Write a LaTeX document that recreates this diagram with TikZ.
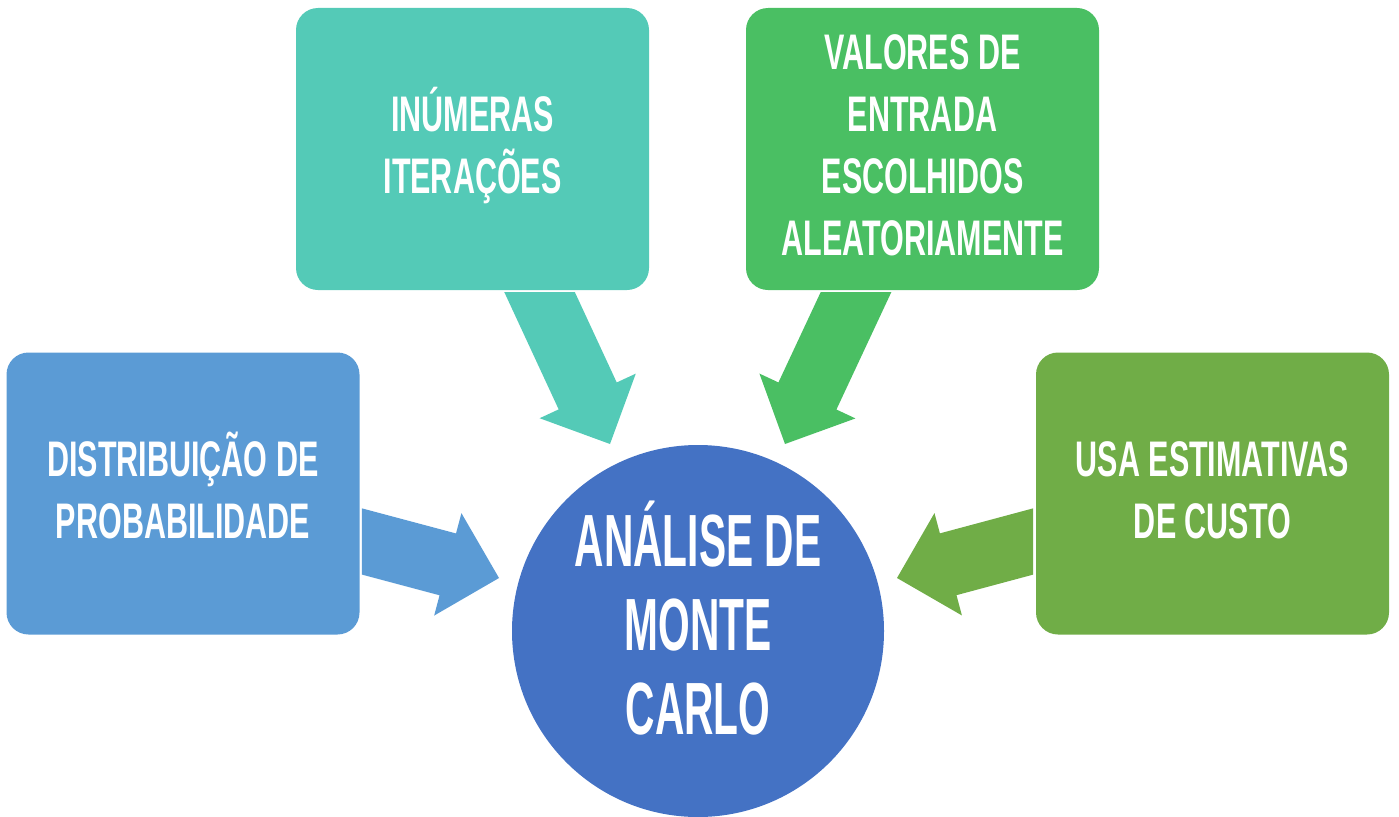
\documentclass[tikz,border=0pt]{standalone}
\usepackage{fontspec}
\newfontfamily\capsfont{Liberation Sans}[FakeStretch=0.61]
\newfontfamily\hubfont{Liberation Sans}[FakeStretch=0.55]
\usetikzlibrary{calc}
\definecolor{probblue}{RGB}{91,155,213}
\definecolor{iterteal}{RGB}{84,202,183}
\definecolor{inputgreen}{RGB}{74,191,99}
\definecolor{costgreen}{RGB}{112,173,71}
\definecolor{mcblue}{RGB}{68,114,196}
\tikzset{
  card/.style={rounded corners=22pt,minimum width=353pt,minimum height=282pt,inner sep=0pt},
  cardtext/.style={anchor=base,inner sep=0pt,text=white,align=center,
    font=\capsfont\bfseries\fontsize{50}{62}\selectfont},
  hub/.style={circle,minimum size=372pt,inner sep=0pt,fill=mcblue},
  hubtext/.style={anchor=base,inner sep=0pt,text=white,align=center,
    font=\hubfont\bfseries\fontsize{74}{84}\selectfont},
}
\newcommand{\blockarrow}[4]{% tail, tip, point on tail cut, colour
  \coordinate (s1) at ($(#1)!32pt!90:(#2)$);
  \coordinate (s2) at ($(#1)!32pt!-90:(#2)$);
  \coordinate (hb) at ($(#2)!53pt!(#1)$);
  \coordinate (h1) at ($(hb)!32pt!90:(#2)$);
  \coordinate (h2) at ($(hb)!32pt!-90:(#2)$);
  \coordinate (c1) at ($(hb)!53pt!90:(#2)$);
  \coordinate (c2) at ($(hb)!53pt!-90:(#2)$);
  \fill[#4] (intersection of s1--h1 and #1--#3) -- (h1) -- (c1) -- (#2)
    -- (c2) -- (h2) -- (intersection of s2--h2 and #1--#3) -- cycle;
}

\begin{document}
\begin{tikzpicture}[x=1pt,y=-1pt]
  \useasboundingbox (0,0) rectangle (1399,816);
  % text nodes sit on the baseline of their last line
  \node[card,fill=probblue] (dist) at (183,493.5){};
  \node[cardtext] (dist-text) at (183,538){DISTRIBUIÇÃO DE\\PROBABILIDADE};
  \node[card,fill=iterteal] (iter) at (472.5,149){};
  \node[cardtext] (iter-text) at (472.5,193){INÚMERAS\\ITERAÇÕES};
  \node[card,fill=inputgreen] (input) at (922.5,149){};
  \node[cardtext] (input-text) at (922.5,255){VALORES DE\\ENTRADA\\ESCOLHIDOS\\ALEATORIAMENTE};
  \node[card,fill=costgreen] (cost) at (1212.5,493.5){};
  \node[cardtext] (cost-text) at (1212.5,538){USA ESTIMATIVAS\\DE CUSTO};
  \node[hub] (mc) at (698,631){};
  \node[hubtext] (mc-text) at (698,734){ANÁLISE DE\\MONTE\\CARLO};
  \coordinate (dist-out) at (362,541.5); \coordinate (dist-cut) at (362,500);
  \coordinate (iter-out) at (539.5,292); \coordinate (iter-cut) at (500,292);
  \coordinate (input-out) at (856,292); \coordinate (input-cut) at (900,292);
  \coordinate (cost-out) at (1033,541.5); \coordinate (cost-cut) at (1033,500);
  \coordinate (mc-w) at (499,578); \coordinate (mc-nw) at (610,444);
  \coordinate (mc-ne) at (785,444); \coordinate (mc-e) at (897,578);
  \blockarrow{dist-out}{mc-w}{dist-cut}{probblue}
  \blockarrow{iter-out}{mc-nw}{iter-cut}{iterteal}
  \blockarrow{input-out}{mc-ne}{input-cut}{inputgreen}
  \blockarrow{cost-out}{mc-e}{cost-cut}{costgreen}
\end{tikzpicture}
\end{document}
